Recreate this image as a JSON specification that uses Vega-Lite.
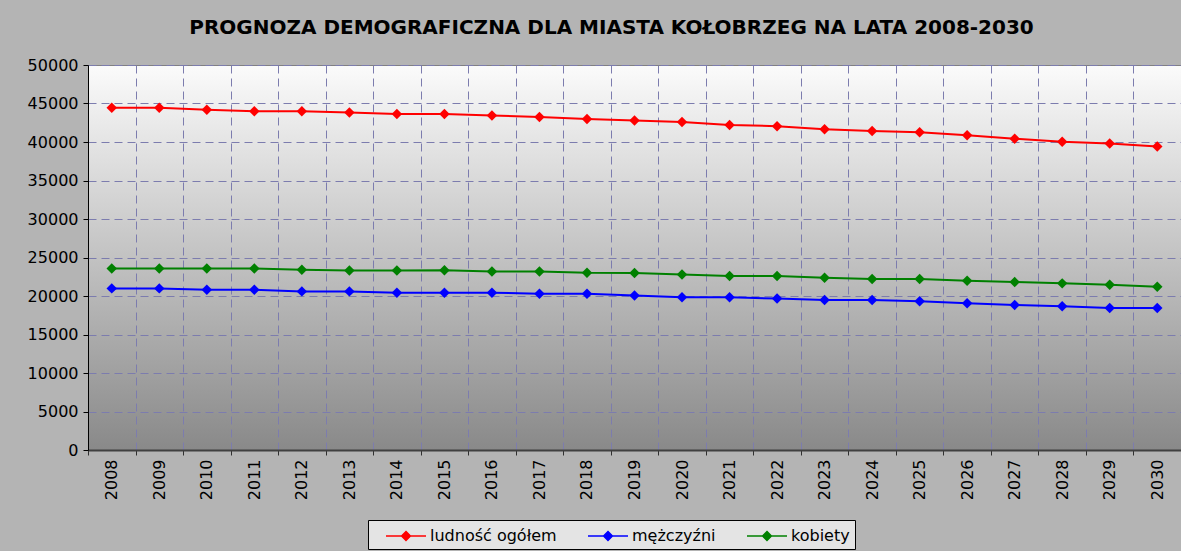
{
  "$schema": "https://vega.github.io/schema/vega-lite/v6.json",
  "autosize": "none",
  "width": 1093,
  "height": 385,
  "padding": {"left": 88, "top": 65, "right": 0, "bottom": 101},
  "background": "#b4b4b4",
  "title": {
    "text": "PROGNOZA DEMOGRAFICZNA DLA MIASTA KOŁOBRZEG NA LATA 2008-2030",
    "font": "DejaVu Sans",
    "fontSize": 20,
    "fontWeight": "bold",
    "color": "#000000",
    "anchor": "middle",
    "offset": 19,
    "dx": -23
  },
  "config": {
    "view": {
      "stroke": "#808080",
      "strokeWidth": 1,
      "fill": {"gradient": "linear", "x1": 0, "y1": 0, "x2": 0, "y2": 1,
        "stops": [{"offset": 0, "color": "#fbfbfb"}, {"offset": 1, "color": "#898989"}]}
    }
  },
  "data": {"values": [
    {"year": "2008", "series": "ludność ogółem", "value": 44440},
    {"year": "2009", "series": "ludność ogółem", "value": 44440},
    {"year": "2010", "series": "ludność ogółem", "value": 44180},
    {"year": "2011", "series": "ludność ogółem", "value": 44000},
    {"year": "2012", "series": "ludność ogółem", "value": 44000},
    {"year": "2013", "series": "ludność ogółem", "value": 43830},
    {"year": "2014", "series": "ludność ogółem", "value": 43650},
    {"year": "2015", "series": "ludność ogółem", "value": 43650},
    {"year": "2016", "series": "ludność ogółem", "value": 43440},
    {"year": "2017", "series": "ludność ogółem", "value": 43260},
    {"year": "2018", "series": "ludność ogółem", "value": 43000},
    {"year": "2019", "series": "ludność ogółem", "value": 42800},
    {"year": "2020", "series": "ludność ogółem", "value": 42610},
    {"year": "2021", "series": "ludność ogółem", "value": 42220},
    {"year": "2022", "series": "ludność ogółem", "value": 42050},
    {"year": "2023", "series": "ludność ogółem", "value": 41650},
    {"year": "2024", "series": "ludność ogółem", "value": 41440},
    {"year": "2025", "series": "ludność ogółem", "value": 41260},
    {"year": "2026", "series": "ludność ogółem", "value": 40870},
    {"year": "2027", "series": "ludność ogółem", "value": 40430},
    {"year": "2028", "series": "ludność ogółem", "value": 40040},
    {"year": "2029", "series": "ludność ogółem", "value": 39820},
    {"year": "2030", "series": "ludność ogółem", "value": 39430},
    {"year": "2008", "series": "mężczyźni", "value": 20990},
    {"year": "2009", "series": "mężczyźni", "value": 20990},
    {"year": "2010", "series": "mężczyźni", "value": 20820},
    {"year": "2011", "series": "mężczyźni", "value": 20820},
    {"year": "2012", "series": "mężczyźni", "value": 20600},
    {"year": "2013", "series": "mężczyźni", "value": 20600},
    {"year": "2014", "series": "mężczyźni", "value": 20430},
    {"year": "2015", "series": "mężczyźni", "value": 20430},
    {"year": "2016", "series": "mężczyźni", "value": 20430},
    {"year": "2017", "series": "mężczyźni", "value": 20300},
    {"year": "2018", "series": "mężczyźni", "value": 20300},
    {"year": "2019", "series": "mężczyźni", "value": 20080},
    {"year": "2020", "series": "mężczyźni", "value": 19830},
    {"year": "2021", "series": "mężczyźni", "value": 19830},
    {"year": "2022", "series": "mężczyźni", "value": 19660},
    {"year": "2023", "series": "mężczyźni", "value": 19480},
    {"year": "2024", "series": "mężczyźni", "value": 19480},
    {"year": "2025", "series": "mężczyźni", "value": 19310},
    {"year": "2026", "series": "mężczyźni", "value": 19050},
    {"year": "2027", "series": "mężczyźni", "value": 18840},
    {"year": "2028", "series": "mężczyźni", "value": 18660},
    {"year": "2029", "series": "mężczyźni", "value": 18450},
    {"year": "2030", "series": "mężczyźni", "value": 18450},
    {"year": "2008", "series": "kobiety", "value": 23580},
    {"year": "2009", "series": "kobiety", "value": 23580},
    {"year": "2010", "series": "kobiety", "value": 23580},
    {"year": "2011", "series": "kobiety", "value": 23580},
    {"year": "2012", "series": "kobiety", "value": 23410},
    {"year": "2013", "series": "kobiety", "value": 23320},
    {"year": "2014", "series": "kobiety", "value": 23320},
    {"year": "2015", "series": "kobiety", "value": 23330},
    {"year": "2016", "series": "kobiety", "value": 23190},
    {"year": "2017", "series": "kobiety", "value": 23190},
    {"year": "2018", "series": "kobiety", "value": 23020},
    {"year": "2019", "series": "kobiety", "value": 23000},
    {"year": "2020", "series": "kobiety", "value": 22800},
    {"year": "2021", "series": "kobiety", "value": 22590},
    {"year": "2022", "series": "kobiety", "value": 22590},
    {"year": "2023", "series": "kobiety", "value": 22370},
    {"year": "2024", "series": "kobiety", "value": 22200},
    {"year": "2025", "series": "kobiety", "value": 22200},
    {"year": "2026", "series": "kobiety", "value": 21980},
    {"year": "2027", "series": "kobiety", "value": 21810},
    {"year": "2028", "series": "kobiety", "value": 21640},
    {"year": "2029", "series": "kobiety", "value": 21470},
    {"year": "2030", "series": "kobiety", "value": 21210}
  ]},
  "mark": {"type": "line", "strokeWidth": 2, "point": {"filled": true, "shape": "diamond", "size": 110}},
  "encoding": {
    "x": {
      "field": "year", "type": "ordinal",
      "scale": {"type": "band", "paddingInner": 0, "paddingOuter": 0},
      "axis": {
        "title": null,
        "labelAngle": 270, "labelAlign": "right", "labelBaseline": "middle",
        "labelFont": "DejaVu Sans", "labelFontSize": 16, "labelColor": "#000000", "labelPadding": 4,
        "tickBand": "extent", "tickSize": 5, "tickColor": "#303030",
        "domainColor": "#404040", "domainWidth": 2,
        "grid": true, "gridDash": [8, 5], "gridColor": "#7c7cae", "gridWidth": 1
      }
    },
    "y": {
      "field": "value", "type": "quantitative",
      "scale": {"domain": [0, 50000]},
      "axis": {
        "title": null, "tickCount": 10, "format": "d",
        "labelFont": "DejaVu Sans", "labelFontSize": 16, "labelColor": "#000000", "labelPadding": 5,
        "tickSize": 5, "tickColor": "#000000", "domainColor": "#000000", "domainWidth": 1,
        "grid": true, "gridDash": [8, 5], "gridColor": "#7c7cae", "gridWidth": 1
      }
    },
    "color": {
      "field": "series", "type": "nominal",
      "scale": {"domain": ["ludność ogółem", "mężczyźni", "kobiety"], "range": ["#ff0000", "#0000ff", "#008000"]},
      "legend": {
        "title": null, "orient": "none", "direction": "horizontal",
        "legendX": 280, "legendY": 455,
        "padding": 5, "strokeColor": "#000000", "fillColor": "#e4e4e4",
        "symbolType": "M-2,0L2,0M0,-0.44L0.44,0L0,0.44L-0.44,0Z",
        "symbolSize": 400, "symbolStrokeWidth": 1.5, "symbolOffset": 22,
        "labelOffset": 13, "columnPadding": 18,
        "labelFont": "DejaVu Sans", "labelFontSize": 16, "labelColor": "#000000",
        "encode": {
          "symbols": {"update": {"fill": {"scale": "color", "field": "value"}, "stroke": {"scale": "color", "field": "value"}}}
        }
      }
    }
  }
}
